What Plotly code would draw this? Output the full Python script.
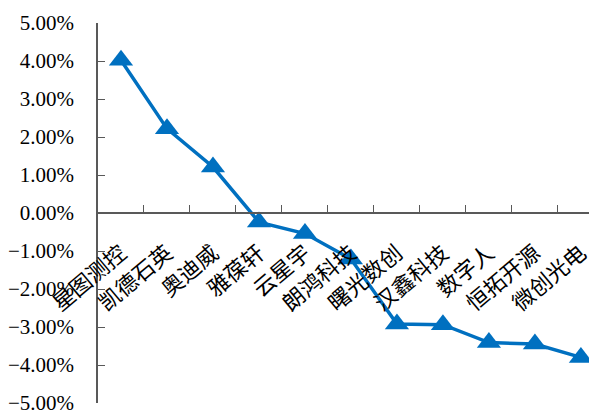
import plotly.graph_objects as go

categories = ["星图测控", "凯德石英", "奥迪威", "雅葆轩", "云星宇", "朗鸿科技",
              "曙光数创", "汉鑫科技", "数字人", "恒拓开源", "微创光电"]
values = [0.0402, 0.0222, 0.0121, -0.0024, -0.0054, -0.0121,
          -0.0292, -0.0294, -0.0341, -0.0345, -0.0380]
y_ticks = [-0.05, -0.04, -0.03, -0.02, -0.01, 0.0, 0.01, 0.02, 0.03, 0.04, 0.05]

fig = go.Figure()
fig.add_trace(go.Scatter(
    x=categories, y=values, mode="lines+markers",
    line=dict(color="#0070C0", width=3.5),
    marker=dict(symbol="triangle-up", size=21, color="#0070C0"),
    showlegend=False,
))

axis_color = "#595959"
fig.update_layout(
    width=589, height=412,
    margin=dict(l=90, r=0, t=15, b=17),
    paper_bgcolor="white", plot_bgcolor="white",
    font=dict(family="Liberation Serif, Noto Sans CJK SC", size=20, color="black"),
    xaxis=dict(
        type="category", range=[-0.5, 10.35],
        anchor="free", position=0.5, automargin=False,
        showline=True, linecolor=axis_color, linewidth=1.5,
        ticks="inside", ticklen=7, tickcolor=axis_color, tickwidth=1.3,
        tickson="boundaries", tickangle=-40, ticklabelstandoff=18,
        tickfont=dict(family="Noto Sans CJK SC", size=22, color="black"),
        showgrid=False, zeroline=False,
    ),
    yaxis=dict(
        range=[-0.05, 0.05], tickvals=y_ticks, tickformat=".2%",
        automargin=False,
        showline=True, linecolor=axis_color, linewidth=1.5,
        ticks="inside", ticklen=7, tickcolor=axis_color, tickwidth=1.3,
        ticklabelstandoff=18,
        tickfont=dict(family="Liberation Serif", size=21, color="black"),
        showgrid=False, zeroline=False,
    ),
)

fig.write_html("out.html")
